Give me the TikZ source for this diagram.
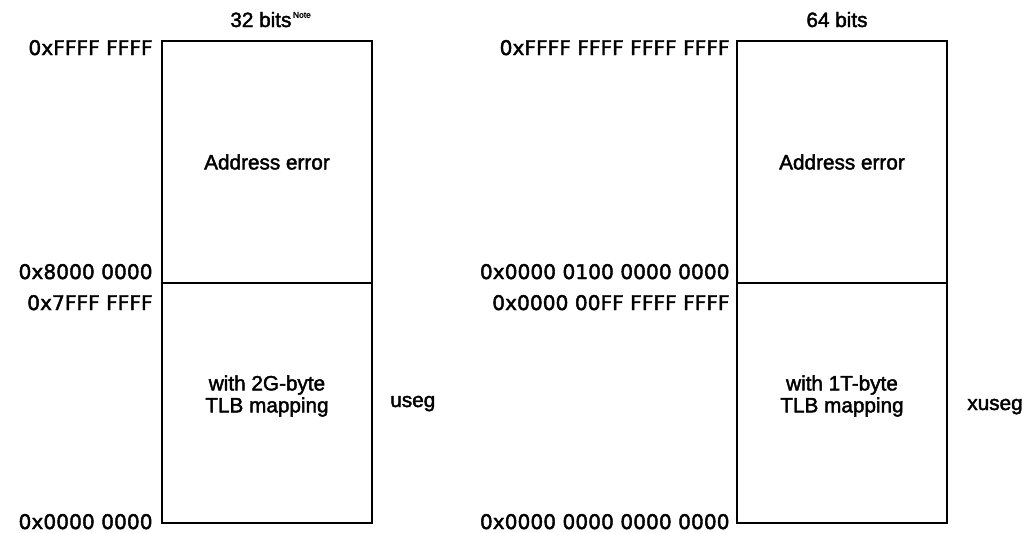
\documentclass[tikz,border=0pt]{standalone}
\usepackage{fontspec}
\setmainfont[FakeBold=2]{Liberation Sans}
\newfontfamily\addrfont[FakeBold=2]{DejaVu Sans}
\usetikzlibrary{positioning}

\tikzset{
  addr/.style={font=\addrfont\fontsize{11.5}{13}\selectfont, inner sep=0pt},
  seg/.style={font=\fontsize{11.8}{12.5}\selectfont, inner sep=0pt},
  note/.style={font=\fontsize{4.8}{5}\selectfont, inner sep=0pt},
  frame/.style={line width=1.4pt},
  split/.style={line width=0.9pt}
}

\begin{document}
\begin{tikzpicture}[x=0.02cm,y=-0.02cm]
\useasboundingbox (0,0) rectangle (1025,532);

% 32-bit user space
\coordinate (ul32) at (162,41);
\coordinate (lr32) at (372,523);
\draw[frame] (ul32) rectangle (lr32);
\draw[split] (162,283) coordinate (sl32) -- (372,283) coordinate (sr32);
\node[seg, anchor=base west] (w32) at (230,27) {32 bits};
\node[note, anchor=north west] (n32) at ([xshift=0.5pt]w32.north east) {Note};
\node[addr, anchor=base east] (hi32) at (153,55) {0xFFFF FFFF};
\node[addr, anchor=base east] (b32) at (153,279) {0x8000 0000};
\node[addr, anchor=base east] (t32) at (153,310) {0x7FFF FFFF};
\node[addr, anchor=base east] (lo32) at (153,529) {0x0000 0000};
\node[seg] (err32) at (267,162) {Address error};
\node[seg, align=center] (tlb32) at (267,396) {with 2G-byte\\TLB mapping};
\node[seg, anchor=base west] (useg) at (390,407) {useg};

% 64-bit user space
\coordinate (ul64) at (737,41);
\coordinate (lr64) at (947,523);
\draw[frame] (ul64) rectangle (lr64);
\draw[split] (737,283) coordinate (sl64) -- (947,283) coordinate (sr64);
\node[seg, anchor=base] (w64) at (837,27) {64 bits};
\node[addr, anchor=base east] (hi64) at (730,55) {0xFFFF FFFF FFFF FFFF};
\node[addr, anchor=base east] (b64) at (730,279) {0x0000 0100 0000 0000};
\node[addr, anchor=base east] (t64) at (730,310) {0x0000 00FF FFFF FFFF};
\node[addr, anchor=base east] (lo64) at (730,529) {0x0000 0000 0000 0000};
\node[seg] (err64) at (842,162) {Address error};
\node[seg, align=center] (tlb64) at (842,396) {with 1T-byte\\TLB mapping};
\node[seg, anchor=base west] (xuseg) at (967,410) {xuseg};
\end{tikzpicture}
\end{document}
